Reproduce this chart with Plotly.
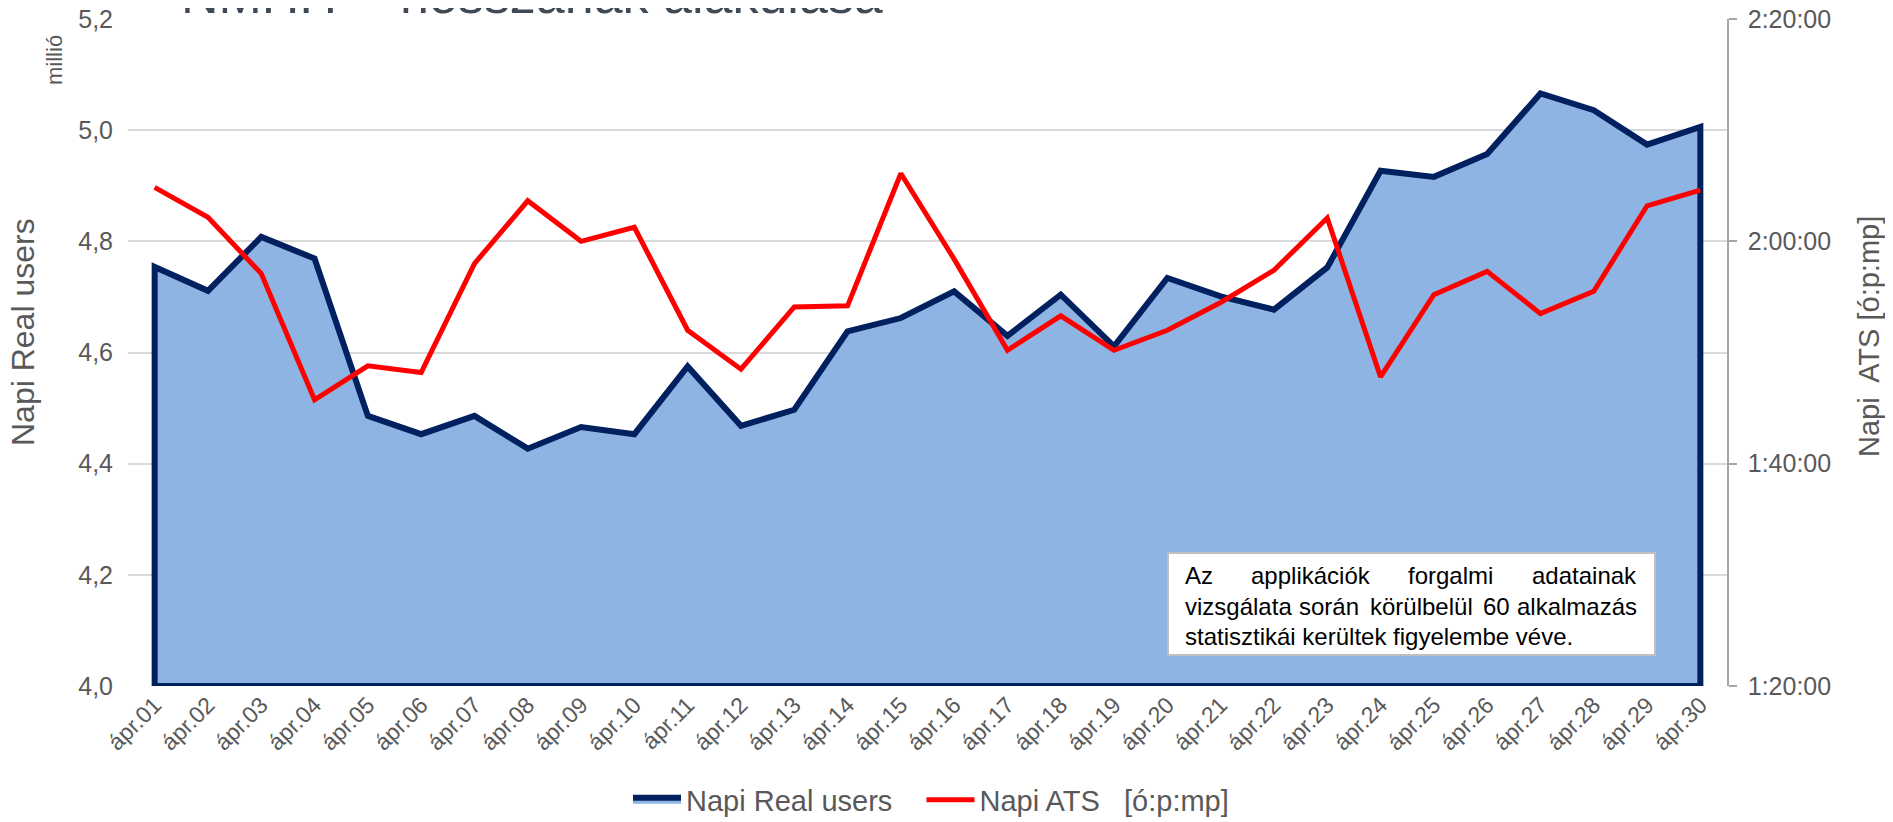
import plotly.graph_objects as go

# ---------------- data ----------------
days = ["ápr.%02d" % d for d in range(1, 31)]
real_users_millio = [4.754, 4.711, 4.808, 4.769, 4.486, 4.453, 4.486, 4.427, 4.466, 4.453,
                     4.575, 4.468, 4.497, 4.638, 4.662, 4.710, 4.630, 4.704, 4.611, 4.734,
                     4.701, 4.677, 4.753, 4.927, 4.916, 4.957, 5.066, 5.036, 4.974, 5.006]
ats_time = ["2:04:51", "2:02:10", "1:57:06", "1:45:45", "1:48:48", "1:48:12", "1:58:00", "2:03:39",
            "2:00:00", "2:01:16", "1:52:00", "1:48:30", "1:54:06", "1:54:12", "2:06:06", "1:58:24",
            "1:50:12", "1:53:18", "1:50:12", "1:52:00", "1:54:30", "1:57:24", "2:02:06", "1:47:48",
            "1:55:12", "1:57:18", "1:53:30", "1:55:30", "2:03:12", "2:04:36"]
left_ticks = [4.0, 4.2, 4.4, 4.6, 4.8, 5.0, 5.2]
right_tick_labels = ["1:20:00", "1:40:00", "2:00:00", "2:20:00"]
note_lines = [["Az", "applikációk", "forgalmi", "adatainak"],
              ["vizsgálata", "során", "körülbelül", "60", "alkalmazás"],
              ["statisztikái kerültek figyelembe véve."]]


def to_min(t):
    h, m, s = [int(p) for p in t.split(":")]
    return h * 60 + m + s / 60.0


ats_min = [to_min(t) for t in ats_time]
right_tick_vals = [to_min(t) for t in right_tick_labels]

# ---------------- layout geometry (page pixels) ----------------
W, H = 1893, 822
OFF = 8                      # body margin of the html page
L, R, T, B = 128, 1727, 19, 686   # plot area in page pixels
FONT = "Liberation Sans, Arial, sans-serif"
GRAY = "#595959"
NB = "\u00a0"


def px(x):
    return (x - L) / (R - L)


def py(y):
    return (B - y) / (B - T)


fig = go.Figure()

# area polygon (closed so the dark border goes around)
base = left_ticks[0]
fig.add_trace(go.Scatter(
    x=[days[0]] + days + [days[-1], days[0]],
    y=[base] + real_users_millio + [base, base],
    mode="lines", fill="toself", fillcolor="#8EB4E3",
    line=dict(color="#002060", width=6), name="Napi Real users" + NB * 3,
    hoverinfo="skip"))

fig.add_trace(go.Scatter(
    x=days, y=ats_min, mode="lines", yaxis="y2",
    line=dict(color="#FF0000", width=5), name="Napi ATS" + NB + " " + NB + "[ó:p:mp]"))

fig.update_layout(
    width=W, height=H,
    margin=dict(l=L - OFF, r=W - (R - OFF), t=T - OFF, b=H - (B - OFF), autoexpand=False),
    paper_bgcolor="white", plot_bgcolor="white",
    separators=", ",
    font=dict(family=FONT, color=GRAY, size=25),
    showlegend=True,
    legend=dict(orientation="h", x=px(628), xanchor="left", y=py(800), yanchor="middle",
                font=dict(size=29, color=GRAY), itemwidth=48,
                bgcolor="rgba(0,0,0,0)", traceorder="normal"),
    xaxis=dict(type="category", categoryorder="array", categoryarray=days,
               range=[-0.5, len(days) - 0.5], showgrid=False, showline=False, zeroline=False,
               tickangle=-45, tickfont=dict(size=23, color=GRAY), ticks="", automargin=False),
    yaxis=dict(range=[left_ticks[0], left_ticks[-1]], tickvals=left_ticks, tickformat=".1f",
               showgrid=True, gridcolor="#D9D9D9", gridwidth=1.5, zeroline=False,
               showline=False, ticks="", tickfont=dict(size=25, color=GRAY), automargin=False,
               ticklabelstandoff=14, ticklabeloverflow="allow"),
    yaxis2=dict(overlaying="y", side="right", range=[right_tick_vals[0], right_tick_vals[-1]],
                tickvals=right_tick_vals, ticktext=right_tick_labels, showgrid=False,
                zeroline=False, showline=True, linecolor="#A6A6A6", linewidth=1.5,
                ticks="outside", ticklen=8, tickcolor="#A6A6A6", tickwidth=1.5,
                tickfont=dict(size=25, color=GRAY), automargin=False, ticklabelstandoff=6,
                ticklabeloverflow="allow"),
)

ann = []
# cropped title
ann.append(dict(text="NMHH", x=px(179), y=py(26), xref="paper", yref="paper",
                xanchor="left", yanchor="bottom", showarrow=False,
                font=dict(size=52, color="#3F4A54", family=FONT)))
ann.append(dict(text="hosszának alakulása", x=px(398), y=py(26), xref="paper", yref="paper",
                xanchor="left", yanchor="bottom", showarrow=False,
                font=dict(size=52, color="#3F4A54", family=FONT)))
# axis titles
ann.append(dict(text="Napi Real users", x=px(23), y=py(332), xref="paper", yref="paper",
                xanchor="center", yanchor="middle",
                textangle=-90, showarrow=False, font=dict(size=32, color=GRAY)))
ann.append(dict(text="millió", x=px(54), y=py(60), xref="paper", yref="paper",
                xanchor="center", yanchor="middle",
                textangle=-90, showarrow=False, font=dict(size=22, color=GRAY)))
ann.append(dict(text="Napi" + NB + " ATS [ó:p:mp]", x=px(1869), y=py(337), xref="paper", yref="paper",
                xanchor="center", yanchor="middle",
                textangle=-90, showarrow=False, font=dict(size=29, color=GRAY)))

# note box
fig.add_shape(type="rect", xref="paper", yref="paper",
              x0=px(1168), x1=px(1655), y0=py(655), y1=py(553),
              fillcolor="white", line=dict(color="#BFBFBF", width=2), layer="above")
note_left, note_right = 1183, 1639
baselines = [585, 616, 646]
centers = [[None, 1311, 1450, None], [None, 1329, 1421, 1496, None], [None]]
for words, yb, cs in zip(note_lines, baselines, centers):
    for i, w in enumerate(words):
        if i == 0:
            xx, anchor = note_left, "left"
        elif i == len(words) - 1:
            xx, anchor = note_right, "right"
        else:
            xx, anchor = cs[i], "center"
        ann.append(dict(text=w, x=px(xx), y=py(yb + 6), xref="paper", yref="paper",
                        xanchor=anchor, yanchor="bottom", showarrow=False,
                        font=dict(size=24, color="black", family=FONT)))
fig.update_layout(annotations=ann)

fig.write_html("out.html")
